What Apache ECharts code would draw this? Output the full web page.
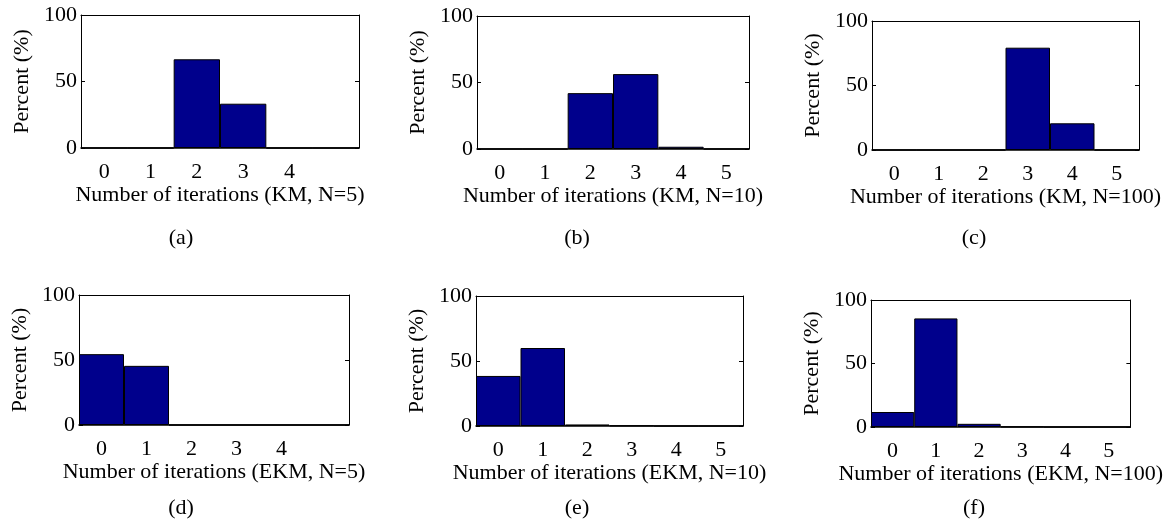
<!DOCTYPE html>
<html>
<head>
<meta charset="utf-8">
<script src="https://cdn.jsdelivr.net/npm/echarts@6/dist/echarts.min.js"></script>
<style>
  html, body { margin: 0; padding: 0; background: #fff; }
  #main { width: 1165px; height: 527px; }
</style>
</head>
<body>
<div id="main"></div>
<script>
// histogram bins (number of iterations)
var binsFull = ['0', '1', '2', '3', '4', '5']
var binsShort = ['0', '1', '2', '3', '4', '']

// percent of runs per bin
var kmN5 = [0, 0, 66.7, 33.3, 0, 0]
var kmN10 = [0, 0, 42, 56.3, 1.7, 0]
var kmN100 = [0, 0, 0, 79.3, 20.7, 0]
var ekmN5 = [54.5, 45.5, 0, 0, 0, 0]
var ekmN10 = [38.5, 60, 1.2, 0.3, 0, 0]
var ekmN100 = [11.8, 85.5, 2.5, 0.2, 0, 0]

var xTitles = [
  'Number of iterations (KM, N=5)',
  'Number of iterations (KM, N=10)',
  'Number of iterations (KM, N=100)',
  'Number of iterations (EKM, N=5)',
  'Number of iterations (EKM, N=10)',
  'Number of iterations (EKM, N=100)'
]
var tags = ['(a)', '(b)', '(c)', '(d)', '(e)', '(f)']

var panels = [
  { data: kmN5, labels: binsShort, grid: { left: 81, top: 15, width: 278, height: 133 }, tag: [181, 238] },
  { data: kmN10, labels: binsFull, grid: { left: 477, top: 16, width: 272, height: 133 }, tag: [577, 238] },
  { data: kmN100, labels: binsFull, grid: { left: 872, top: 21, width: 267, height: 129 }, tag: [974, 238] },
  { data: ekmN5, labels: binsShort, grid: { left: 79, top: 295, width: 270, height: 130 }, tag: [181, 508] },
  { data: ekmN10, labels: binsFull, grid: { left: 476, top: 296, width: 267, height: 130 }, tag: [577, 508] },
  { data: ekmN100, labels: binsFull, grid: { left: 871, top: 300, width: 263, height: 127 }, tag: [974, 508] }
]

var font = 'Liberation Serif'
var barColor = '#00008c'

var grids = [], xAxes = [], yAxes = [], series = [], graphics = []

panels.forEach(function (p, i) {
  grids.push(p.grid)
  // bottom axis with labels
  xAxes.push({
    type: 'category', gridIndex: i, position: 'bottom',
    data: p.labels,
    name: xTitles[i], nameLocation: 'middle', nameGap: 34,
    nameTextStyle: { fontFamily: font, fontSize: 22, color: '#000' },
    axisLine: { onZero: false, lineStyle: { color: '#000', width: 1.5 } },
    axisTick: { inside: true, alignWithLabel: true, length: 4, lineStyle: { color: '#000' } },
    axisLabel: { fontFamily: font, fontSize: 22, color: '#000', margin: 13, interval: 0 },
    splitLine: { show: false }
  })
  // top mirror axis (box)
  xAxes.push({
    type: 'category', gridIndex: i, position: 'top',
    data: p.labels,
    axisLine: { onZero: false, lineStyle: { color: '#000', width: 1 } },
    axisTick: { inside: true, alignWithLabel: true, length: 4, lineStyle: { color: '#000' } },
    axisLabel: { show: false },
    splitLine: { show: false }
  })
  yAxes.push({
    type: 'value', gridIndex: i, position: 'left',
    min: 0, max: 100, interval: 50,
    name: 'Percent (%)', nameLocation: 'middle', nameGap: 48,
    nameTextStyle: { fontFamily: font, fontSize: 22, color: '#000' },
    axisLine: { show: true, onZero: false, lineStyle: { color: '#000', width: 1 } },
    axisTick: { show: true, inside: true, length: 4, lineStyle: { color: '#000' } },
    axisLabel: { fontFamily: font, fontSize: 22, color: '#000', margin: 4 },
    splitLine: { show: false }
  })
  yAxes.push({
    type: 'value', gridIndex: i, position: 'right',
    min: 0, max: 100, interval: 50,
    axisLine: { show: true, onZero: false, lineStyle: { color: '#000', width: 1 } },
    axisTick: { show: true, inside: true, length: 4, lineStyle: { color: '#000' } },
    axisLabel: { show: false },
    splitLine: { show: false }
  })
  series.push({
    type: 'bar',
    xAxisIndex: i * 2, yAxisIndex: i * 2,
    data: p.data,
    barCategoryGap: 0,
    itemStyle: { color: barColor, borderColor: '#000', borderWidth: 1 },
    silent: true,
    z: 1
  })
  graphics.push({
    type: 'text',
    x: p.tag[0], y: p.tag[1],
    style: {
      text: tags[i], fontFamily: font, fontSize: 22, fill: '#000',
      textAlign: 'center', textVerticalAlign: 'middle'
    }
  })
})

var chart = echarts.init(document.getElementById('main'))
chart.setOption({
  animation: false,
  backgroundColor: '#fff',
  grid: grids,
  xAxis: xAxes,
  yAxis: yAxes,
  series: series,
  graphic: graphics
})
</script>
</body>
</html>
